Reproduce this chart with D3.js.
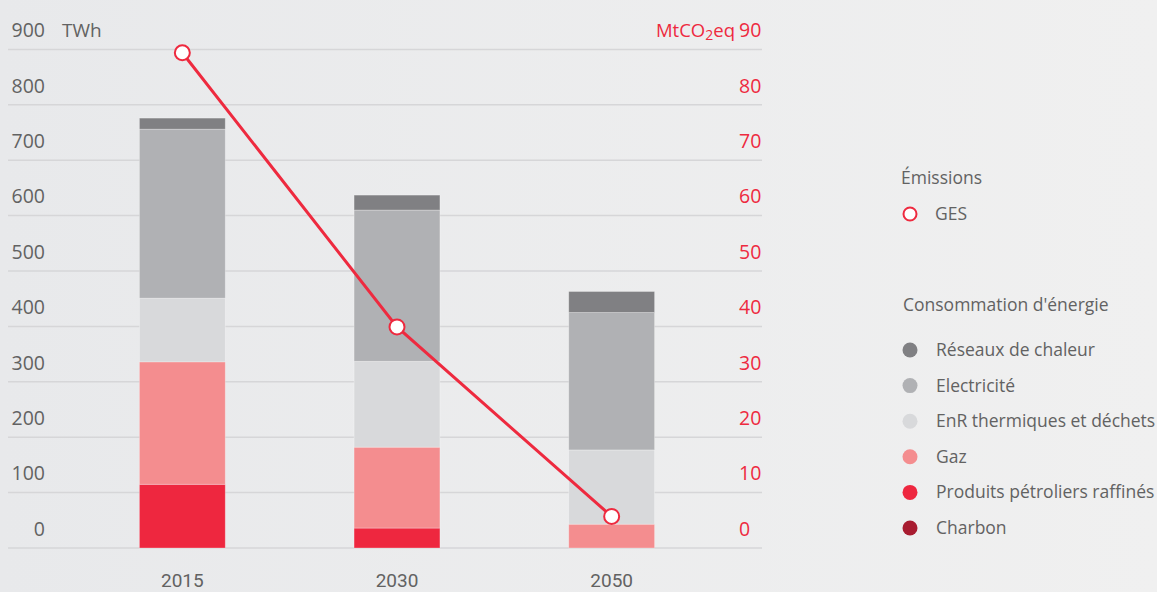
<!DOCTYPE html>
<html><head><meta charset="utf-8">
<script src="https://cdn.jsdelivr.net/npm/d3@7"></script>
<style>
html,body{margin:0;padding:0;}
body{width:1157px;height:592px;overflow:hidden;}
svg{display:block;font-family:"Open Sans","Noto Sans",sans-serif;}
</style></head>
<body><svg id="c" width="1157" height="592"></svg>
<script>
const years = ["2015", "2030", "2050"];
const seriesNames = ["Charbon", "Produits pétroliers raffinés", "Gaz", "EnR thermiques et déchets", "Electricité", "Réseaux de chaleur"];
const charbon = [0, 0, 0];
const petrole = [115, 36, 0];
const gaz = [221, 146, 43];
const enr = [115, 155, 134];
const electricite = [305, 273, 248];
const reseaux = [20, 27, 38];
const emissions = [89.4, 39.9, 5.7];
const leftTicks = [0, 100, 200, 300, 400, 500, 600, 700, 800, 900];
const rightTicks = [0, 10, 20, 30, 40, 50, 60, 70, 80, 90];
const colors = ["#a81c30", "#ee273f", "#f48d8f", "#d8d9db", "#b0b1b4", "#808083"];
const legendOrder = ["Réseaux de chaleur", "Electricité", "EnR thermiques et déchets", "Gaz", "Produits pétroliers raffinés", "Charbon"];

const svg = d3.select("#c");
const defs = svg.append("defs");
const grad = defs.append("linearGradient").attr("id","bg").attr("x1","0").attr("x2","1").attr("y1","0").attr("y2","0");
grad.append("stop").attr("offset","0").attr("stop-color","#e8e9eb");
grad.append("stop").attr("offset","1").attr("stop-color","#f0f0f0");
svg.append("rect").attr("width",1157).attr("height",592).attr("fill","url(#bg)");

const red = "#ee2a3f";
const txt = "#626262";
const y = d3.scaleLinear().domain([0, 900]).range([548, 49.4]);
const y2 = d3.scaleLinear().domain([0, 90]).range([548, 49.4]);
const x = d3.scaleBand().domain(years).range([75, 719]).paddingInner(0.6).paddingOuter(0.3);

// grid
const gx0 = 8, gx1 = 762;
svg.append("g").selectAll("line").data(leftTicks).join("line")
  .attr("x1", gx0).attr("x2", gx1)
  .attr("y1", d => y(d)).attr("y2", d => y(d))
  .attr("stroke", "#d6d6d8").attr("stroke-width", 1.5);

// left axis labels
const leftAxis = d3.axisLeft(y).tickValues(leftTicks).tickSize(0).tickPadding(0);
const gl = svg.append("g").attr("transform", "translate(45,-19)").call(leftAxis);
gl.select(".domain").remove();
gl.selectAll("text").attr("fill", txt).style("font-size", "19.5px").style("font-family", "'Open Sans',sans-serif");
svg.append("text").attr("x", 62).attr("y", y(900) - 12.5).text("TWh")
  .attr("fill", txt).style("font-size", "19px");

// right axis labels
const rightAxis = d3.axisRight(y2).tickValues(rightTicks).tickSize(0).tickPadding(0);
const gr = svg.append("g").attr("transform", "translate(739,-19)").call(rightAxis);
gr.select(".domain").remove();
gr.selectAll("text").attr("fill", red).style("font-size", "19.5px").style("font-family", "'Open Sans',sans-serif");
const unit = svg.append("text").attr("x", 735).attr("y", y2(90) - 12.5).attr("text-anchor", "end")
  .attr("fill", red).style("font-size", "18.5px");
unit.append("tspan").text("MtCO");
unit.append("tspan").text("2").style("font-size", "14px").attr("dy", 3);
unit.append("tspan").text("eq").attr("dy", -3);

// stacked bars
const rows = years.map((yr, i) => ({
  year: yr,
  "Charbon": charbon[i], "Produits pétroliers raffinés": petrole[i], "Gaz": gaz[i],
  "EnR thermiques et déchets": enr[i], "Electricité": electricite[i], "Réseaux de chaleur": reseaux[i]
}));
const stack = d3.stack().keys(seriesNames)(rows);
const color = d3.scaleOrdinal().domain(seriesNames).range(colors);
svg.append("g").selectAll("g").data(stack).join("g")
  .attr("fill", d => color(d.key))
  .selectAll("rect").data(d => d).join("rect")
  .attr("x", d => x(d.data.year))
  .attr("width", x.bandwidth())
  .attr("y", d => y(d[1]))
  .attr("height", d => Math.max(0, y(d[0]) - y(d[1])))
  .attr("stroke", "rgba(255,255,255,0.35)").attr("stroke-width", 0.8);

// x labels
svg.append("g").selectAll("text").data(years).join("text")
  .attr("x", d => x(d) + x.bandwidth() / 2).attr("y", 587)
  .attr("text-anchor", "middle").attr("fill", txt)
  .style("font-family", "Roboto,sans-serif").style("font-size", "19px")
  .text(d => d);

// emissions line
const pts = years.map((yr, i) => [x(yr) + x.bandwidth() / 2, y2(emissions[i])]);
svg.append("path").attr("d", d3.line()(pts)).attr("fill", "none")
  .attr("stroke", red).attr("stroke-width", 3);
svg.append("g").selectAll("circle").data(pts).join("circle")
  .attr("cx", d => d[0]).attr("cy", d => d[1]).attr("r", 7.5)
  .attr("fill", "#fff").attr("stroke", red).attr("stroke-width", 2);

// legend
const lg = svg.append("g").style("font-size", "17.5px").attr("fill", txt);
lg.append("text").attr("x", 901).attr("y", 184).text("Émissions");
lg.append("circle").attr("cx", 910).attr("cy", 214).attr("r", 6.5).attr("fill", "#fff").attr("stroke", red).attr("stroke-width", 2);
lg.append("text").attr("x", 935).attr("y", 220).text("GES");
lg.append("text").attr("x", 903).attr("y", 311).text("Consommation d'énergie");
const items = lg.selectAll("g.it").data(legendOrder).join("g").attr("class", "it")
  .attr("transform", (d, i) => `translate(0,${350 + i * 35.6})`);
items.append("circle").attr("cx", 910).attr("cy", 0).attr("r", 7.5).attr("fill", d => color(d));
items.append("text").attr("x", 936).attr("y", 6).text(d => d);
</script></body></html>
